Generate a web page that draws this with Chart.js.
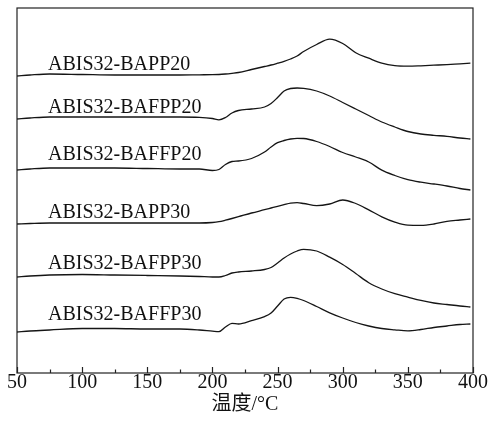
<!DOCTYPE html>
<html>
<head>
<meta charset="utf-8">
<script src="https://cdn.jsdelivr.net/npm/chart.js@4.4.0/dist/chart.umd.min.js"></script>
<style>
html,body{margin:0;padding:0;background:#fff;}
canvas{display:block;}
</style>
</head>
<body>
<canvas id="c" width="489" height="425"></canvas>
<script>
// Temperature grid (°C)
const temps = [50,60,75,100,125,150,175,190,200,205,210,215,220,230,240,245,250,255,260,265,270,280,290,300,310,320,330,340,350,360,370,380,390,398];
// Offset heat-flow curves (arbitrary units, vertically stacked)
const bapp20  = [297,298,299,298.5,298,298,298,298.2,298.3,298.5,299,299.7,300.5,303.5,306.5,308,309.8,311.7,314,317,321.5,328.5,333.8,329.5,320.3,314.8,309.8,307.3,306.8,307.2,307.8,308.4,309.2,309.8];
const bafpp20 = [254,255,256,256,256,256,256,255.7,254.5,253.2,255.5,260,262.5,264,266,269.5,275.5,282,284.5,285,284.7,282,277,270.5,264,257.5,251,246,241.5,239,237.7,236.6,235,234];
const baffp20 = [203,204,205,205,205,204.5,204,204,202.5,203.5,208.5,211.5,212,214.5,221,226,230.3,232.5,234,234.7,234.5,231.5,226.5,220.5,216,211,202.8,197.5,193.3,190.8,189,187,184.5,183];
const bapp30  = [149,149.5,150,150,150,150,150,150,150.5,151.3,152.8,154.5,156.3,160,163.3,165,166.7,168.3,169.8,170.3,169.5,167.3,169,173,169.5,163.1,156.2,150.9,147.8,147.6,149,151.7,153,154];
const bafpp30 = [96,97,98,98.5,98,97.5,97,96.5,96,96,97.5,100,101,102,103.5,105.5,110,115,119,122,123.7,122,115.8,108.5,99.5,90.3,84,79.3,75.9,72.6,70,68.5,67,66];
const baffp30 = [41,42,43,44.5,44.5,44,44,43,41.8,41.3,46,49.7,49,52.3,56.4,60,67,74,75.7,74.7,72.5,66.5,60.2,55,50.5,47,44.5,43.2,42.2,43.5,45.5,47,48.5,49];
const seriesNames = ['ABIS32-BAPP20','ABIS32-BAFPP20','ABIS32-BAFFP20','ABIS32-BAPP30','ABIS32-BAFPP30','ABIS32-BAFFP30'];
const seriesValues = [bapp20, bafpp20, baffp20, bapp30, bafpp30, baffp30];
// Curve label anchor (x in °C, y = baseline in data units)
const labelX = [73.8,73.8,73.8,73.8,73.8,73.8];
const labelY = [303.5,260,213,155,104,53];
const xTicks = [50,100,150,200,250,300,350,400];

const FONT = "'Liberation Serif','Times New Roman','Noto Sans CJK SC',serif";

const framePlugin = {
  id: 'frame',
  afterDraw(chart) {
    const {ctx, chartArea: a, scales} = chart;
    const xs = scales.x, ys = scales.y;
    ctx.save();
    ctx.strokeStyle = '#222';
    ctx.lineWidth = 1.2;
    ctx.strokeRect(a.left, a.top, a.right - a.left, a.bottom - a.top);
    ctx.beginPath();
    for (let t = 50; t <= 400; t += 25) {
      const px = Math.round(xs.getPixelForValue(t)) + 0.5;
      const len = (t % 50 === 0) ? 6 : 3.5;
      ctx.moveTo(px, a.bottom);
      ctx.lineTo(px, a.bottom - len);
    }
    ctx.stroke();
    ctx.fillStyle = '#111';
    ctx.font = "20px " + FONT;
    ctx.textBaseline = 'alphabetic';
    ctx.textAlign = 'left';
    seriesNames.forEach((n, i) => {
      ctx.fillText(n, xs.getPixelForValue(labelX[i]), ys.getPixelForValue(labelY[i]));
    });
    ctx.restore();
  }
};

new Chart(document.getElementById('c'), {
  type: 'line',
  data: {
    datasets: seriesValues.map((vals, i) => ({
      label: seriesNames[i],
      data: temps.map((t, j) => ({x: t, y: vals[j]})),
      borderColor: '#151515',
      borderWidth: 1.3,
      pointRadius: 0,
      cubicInterpolationMode: 'monotone',
      fill: false
    }))
  },
  options: {
    responsive: false,
    animation: false,
    devicePixelRatio: 1,
    layout: {padding: {left: 17, right: 16, top: 8, bottom: 0}},
    plugins: {legend: {display: false}, tooltip: {enabled: false}},
    scales: {
      x: {
        type: 'linear', min: 50, max: 400,
        afterBuildTicks: s => { s.ticks = xTicks.map(v => ({value: v})); },
        ticks: {font: {family: FONT, size: 20, lineHeight: 1}, color: '#111', padding: 0, maxRotation: 0, autoSkip: false},
        grid: {display: false, drawTicks: false},
        border: {display: false},
        title: {display: true, text: '温度/°C', color: '#111', font: {family: FONT, size: 20, lineHeight: 1.2}, padding: {top: 0, bottom: 8}},
        afterFit: s => { s.height = 52; }
      },
      y: {
        type: 'linear', min: 0, max: 365, display: false
      }
    }
  },
  plugins: [framePlugin]
});
</script>
</body>
</html>
